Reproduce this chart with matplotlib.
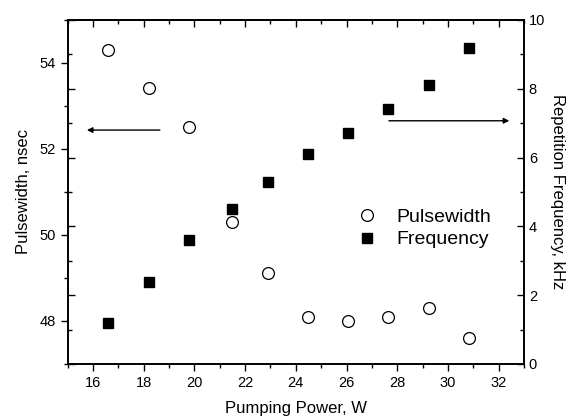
import matplotlib
matplotlib.use("Agg")
import matplotlib.pyplot as plt
from matplotlib.lines import Line2D
from matplotlib.ticker import MultipleLocator

plt.rcParams["font.family"] = ["Liberation Sans", "DejaVu Sans"]

# pumping power, W
power = [16.6, 18.2, 19.8, 21.5, 22.9, 24.5, 26.05, 27.65, 29.25, 30.85]
# pulse width, ns (left axis)
pulsewidth = [54.3, 53.41, 52.5, 50.3, 49.11, 48.1, 48.01, 48.1, 48.3, 47.6]
# repetition frequency, kHz (right axis)
frequency = [1.2, 2.39, 3.6, 4.5, 5.3, 6.1, 6.71, 7.4, 8.11, 9.2]

fig = plt.figure(figsize=(5.75, 4.18), dpi=100)
ax = fig.add_axes([0.1176, 0.1292, 0.7937, 0.823])
ax2 = ax.twinx()

ax.plot(power, pulsewidth, "o", mfc="white", mec="black", mew=0.9, ms=8.5,
        label="Pulsewidth")
ax2.plot(power, frequency, "s", color="black", ms=7, label="Frequency")

ax.set_xlim(15, 33)
ax.set_ylim(47, 55)
ax2.set_ylim(0, 10)

ax.xaxis.set_major_locator(MultipleLocator(2))
ax.xaxis.set_minor_locator(MultipleLocator(1))
ax.yaxis.set_major_locator(MultipleLocator(2))
ax.yaxis.set_minor_locator(MultipleLocator(1))
ax2.yaxis.set_major_locator(MultipleLocator(2))
ax2.yaxis.set_minor_locator(MultipleLocator(1))

ax.tick_params(axis="x", which="both", direction="out", top=False,
               labelsize=10.5)
ax.tick_params(axis="y", which="both", direction="out", right=False,
               labelsize=10.5)
ax.tick_params(which="major", length=5, width=1)
ax.tick_params(which="minor", length=3, width=1)

# frequency ticks point inward on both vertical spines
ax2.tick_params(axis="y", which="both", direction="in", left=True, right=True,
                labelleft=False, labelright=True, labelsize=10.5)
ax2.tick_params(which="major", length=5, width=1)
ax2.tick_params(which="minor", length=3, width=1)

# top spine: inward ticks without labels
top = ax.secondary_xaxis("top")
top.xaxis.set_major_locator(MultipleLocator(2))
top.xaxis.set_minor_locator(MultipleLocator(1))
top.tick_params(which="both", direction="in", labeltop=False, width=1)
top.tick_params(which="major", length=5)
top.tick_params(which="minor", length=3)

for a in (ax, ax2):
    for s in a.spines.values():
        s.set_linewidth(1.2)
top.spines["top"].set_linewidth(1.2)

ax.set_xlabel("Pumping Power, W", fontsize=12, labelpad=8)
ax.set_ylabel("Pulsewidth, nsec", fontsize=12, labelpad=6)
ax2.set_ylabel("Repetition Frequency, kHz", fontsize=12, rotation=270,
               labelpad=14)

# arrows pointing to the axis each series belongs to
ax.annotate("", xy=(15.76, 52.44), xytext=(18.64, 52.44),
            arrowprops=dict(arrowstyle="-|>", color="black", lw=1,
                            mutation_scale=8, shrinkA=0, shrinkB=0))
ax2.annotate("", xy=(32.42, 7.07), xytext=(27.67, 7.07),
             arrowprops=dict(arrowstyle="-|>", color="black", lw=1,
                             mutation_scale=8, shrinkA=0, shrinkB=0))

handles = [Line2D([], [], ls="none", marker="o", mfc="white", mec="black",
                  mew=0.9, ms=8.5),
           Line2D([], [], ls="none", marker="s", color="black", ms=7)]
ax2.legend(handles, ["Pulsewidth", "Frequency"], loc="upper left",
           bbox_to_anchor=(0.605, 0.525), bbox_transform=fig.transFigure,
           frameon=False, fontsize=14, handlelength=1.0, handletextpad=1.0,
           labelspacing=0.25, borderpad=0)

fig.savefig("out.png", dpi=100)
